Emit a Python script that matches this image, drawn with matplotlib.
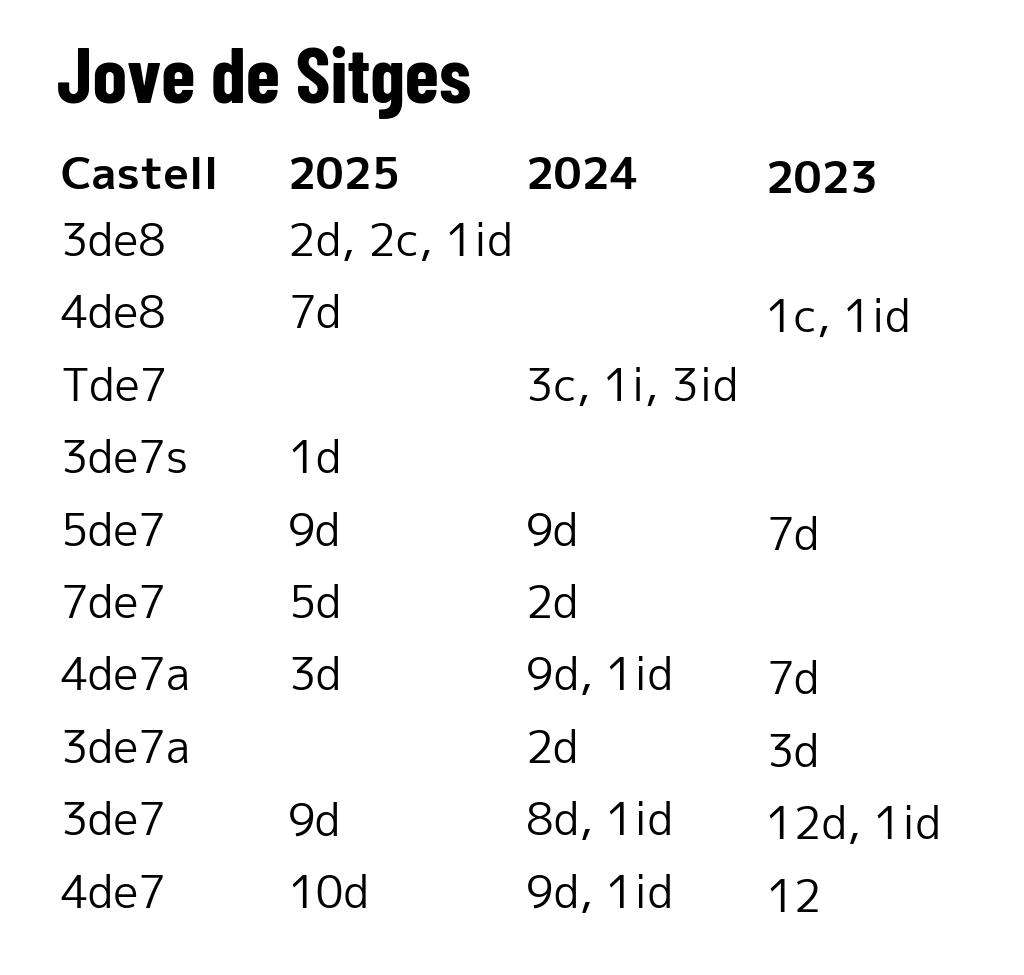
import matplotlib
matplotlib.use("Agg")
import matplotlib.pyplot as plt
from matplotlib import font_manager

title = "Jove de Sitges"
headers = ["Castell", "2025", "2024", "2023"]
castells = ["3de8", "4de8", "Tde7", "3de7s", "5de7", "7de7", "4de7a", "3de7a", "3de7", "4de7"]
res_2025 = ["2d, 2c, 1id", "7d", "", "1d", "9d", "5d", "3d", "", "9d", "10d"]
res_2024 = ["", "", "3c, 1i, 3id", "", "9d", "2d", "9d, 1id", "2d", "8d, 1id", "9d, 1id"]
res_2023 = ["", "1c, 1id", "", "", "7d", "", "7d", "3d", "12d, 1id", "12"]

W, H = 1024, 975
fig = plt.figure(figsize=(W / 100, H / 100), dpi=100)
fig.patch.set_facecolor("white")

names = {f.name for f in font_manager.fontManager.ttflist}


def pick(*cands):
    for c in cands:
        if c in names:
            return c
    return "DejaVu Sans"


title_family = pick("Barlow Condensed", "Roboto Condensed", "Oswald")
body_family = pick("M PLUS 1p", "Zen Kaku Gothic New", "Inter")


def put(x, y, s, **kw):
    # pixel coords from top-left, y is the baseline
    return fig.text(x / W, 1 - y / H, s, va="baseline", ha="left", **kw)


def fit(t, target):
    # scale a text so its width matches the reference
    fig.canvas.draw()
    w = t.get_window_extent().width
    t.set_fontsize(t.get_fontsize() * target / w)
    return t.get_fontsize()


t = put(57, 103, title, fontsize=60, fontweight="bold", family=title_family)
fit(t, 415)

col_x = [60, 288, 526, 766]
col_dy = [0, 0, 0, 4]
header_y = 189
row_y0 = 256
row_step = 72.4

probe = put(0, -100, "2025", fontsize=30, fontweight="bold", family=body_family)
head_size = fit(probe, 113)
probe.remove()
probe = put(0, -100, "4de7a", fontsize=30, family=body_family)
body_size = fit(probe, 130)
probe.remove()

for x, dy, h in zip(col_x, col_dy, headers):
    put(x, header_y + dy, h, fontsize=head_size, fontweight="bold", family=body_family)

columns = [castells, res_2025, res_2024, res_2023]
for x, dy, col in zip(col_x, col_dy, columns):
    for i, s in enumerate(col):
        if s:
            put(x, row_y0 + i * row_step + dy, s, fontsize=body_size, family=body_family)

fig.savefig("out.png", dpi=100, facecolor="white")
